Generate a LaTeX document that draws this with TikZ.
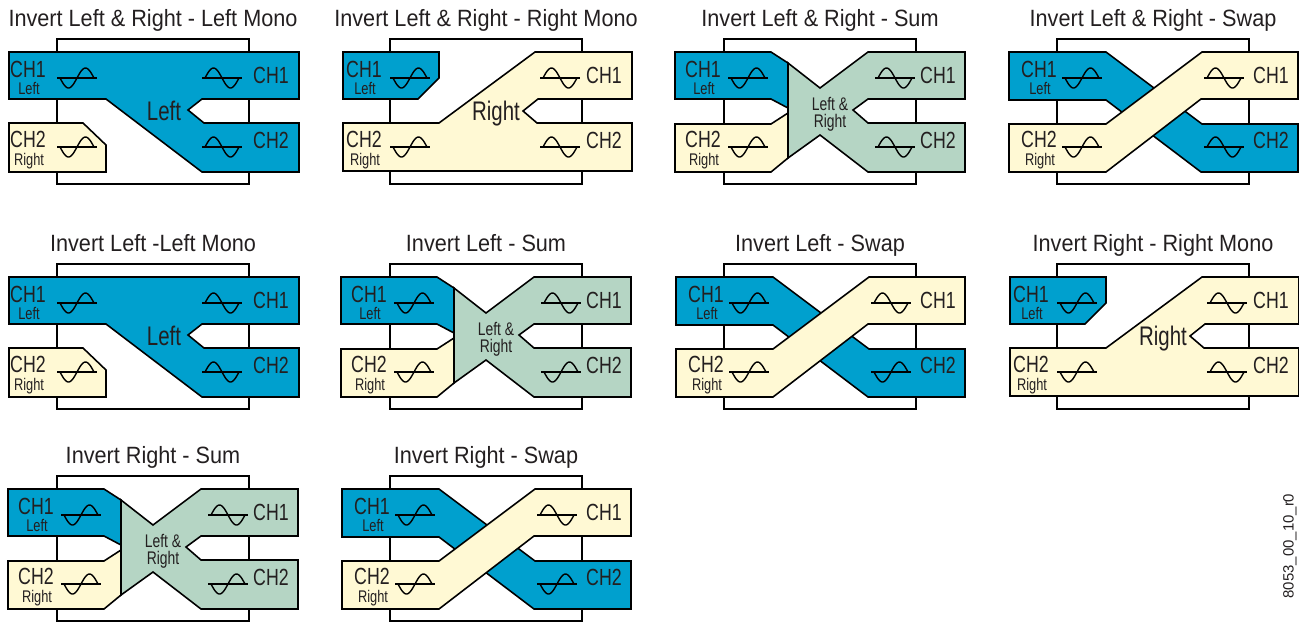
\documentclass[tikz,border=0pt]{standalone}
\usepackage{fontspec}
\setmainfont{Liberation Sans}
\newfontfamily\titlefont{Liberation Sans}[FakeStretch=0.92]
\newfontfamily\chfont{Liberation Sans}[FakeStretch=0.76]

\definecolor{chblue}{RGB}{0,160,206}
\definecolor{chcream}{RGB}{255,249,212}
\definecolor{chgreen}{RGB}{181,213,196}
\definecolor{chtext}{RGB}{35,31,32}

\tikzset{
  frame/.style={draw=black, line width=0.8pt, fill=white},
  band/.style={draw=black, line width=0.9pt, line join=miter},
  waveline/.style={draw=black, line width=0.8pt},
  paneltitle/.style={font=\titlefont\fontsize{13.4}{15}\selectfont, text=chtext, inner sep=0pt, anchor=base},
  chlabel/.style={font=\chfont\fontsize{13.3}{15}\selectfont, text=chtext, inner sep=0pt, anchor=base},
  sublabel/.style={font=\chfont\fontsize{9.6}{11}\selectfont, text=chtext, inner sep=0pt, anchor=base},
  midlabel/.style={font=\chfont\fontsize{15.3}{17}\selectfont, text=chtext, inner sep=0pt, anchor=base},
  sumlabel/.style={font=\chfont\fontsize{10.4}{9.7}\selectfont, text=chtext, align=center, inner sep=0pt},
}

% one sine period on a short line: #3 = 1 hump up first, -1 hump down first
\newcommand{\wave}[3]{%
  \draw[waveline] ({#1-20},#2) -- ({#1+20},#2);
  \draw[waveline] plot[domain=-17:17, samples=41, smooth] ({#1+\x},{#2+#3*10*sin(\x*180/17)});
}

% band shapes, one macro per routing mode
\newcommand{\leftmono}[1]{%
  \draw[band, fill=chcream] (9,123) -- (83,123) -- (106,145) -- (106,172) -- (9,172) -- cycle;
  \draw[band, fill=chblue] (9,52) -- (299,52) -- (299,99) -- (202,99) -- (188,110) -- (204,123)
    -- (299,123) -- (299,172) -- (202,172) -- (106,99) -- (9,99) -- cycle;
  \node[midlabel] (#1-mix) at (164,120) {Left};
  \def\inlx{28}\def\inwx{77}\def\outwx{222}%
}
\newcommand{\rightmono}[1]{%
  \draw[band, fill=chblue] (10,52) -- (106,52) -- (106,78) -- (85,99) -- (10,99) -- cycle;
  \draw[band, fill=chcream] (10,123) -- (106,123) -- (202,52) -- (299,52) -- (299,99) -- (205,99)
    -- (190,111) -- (204,123) -- (299,123) -- (299,171) -- (10,171) -- cycle;
  \node[midlabel] (#1-mix) at (163,120) {Right};
  \def\inlx{31}\def\inwx{77}\def\outwx{227}%
}
\newcommand{\sumbody}[1]{%
  \draw[band, fill=chblue] (8,52) -- (104,52) -- (121,63) -- (121,108) -- (104,99) -- (8,99) -- cycle;
  \draw[band, fill=chcream] (8,124) -- (104,124) -- (121,113) -- (121,158) -- (104,172) -- (8,172) -- cycle;
  \draw[band, fill=chgreen] (121,63) -- (153,88) -- (201,52) -- (298,52) -- (298,99) -- (201,99)
    -- (186,110) -- (201,123) -- (298,123) -- (298,172) -- (201,172) -- (153,135) -- (121,158) -- cycle;
  \node[sumlabel] (#1-mix) at (163,114) {Left \&\\Right};
  \def\inlx{36}\def\inwx{81}\def\outwx{228}%
}
\newcommand{\swapbody}[1]{%
  \draw[band, fill=chblue] (9,52) -- (106,52) -- (202,124) -- (298,124) -- (298,172) -- (201,172)
    -- (106,100) -- (9,100) -- cycle;
  \draw[band, fill=chcream] (9,124) -- (106,124) -- (202,52) -- (298,52) -- (298,99) -- (201,99)
    -- (106,172) -- (9,172) -- cycle;
  \def\inlx{39}\def\inwx{82}\def\outwx{224}%
}

% #1 prefix, #2 title, #3 mode, #4/#5 output wave signs
\newcommand{\audiopanel}[5]{%
  \draw[frame] (57,39) rectangle (249,184);
  \node[paneltitle] (#1-title) at (153,26) {#2};
  #3{#1}%
  \node[chlabel] (#1-in1) at (\inlx,77) {CH1};
  \node[sublabel] (#1-in1s) at ({\inlx+1},94) {Left};
  \node[chlabel] (#1-in2) at (\inlx,147) {CH2};
  \node[sublabel] (#1-in2s) at ({\inlx+1},165) {Right};
  \wave{\inwx}{78}{-1}
  \wave{\inwx}{147}{-1}
  \wave{\outwx}{78}{#4}
  \wave{\outwx}{147}{#5}
  \node[chlabel] (#1-out1) at (271,83) {CH1};
  \node[chlabel] (#1-out2) at (271,148) {CH2};
}

\begin{document}
\begin{tikzpicture}[x=0.02cm, y=-0.02cm]
  \useasboundingbox (0,0) rectangle (1299,623);

  % === Row 1: invert left & right ===
  \begin{scope}[shift={(0,0)}]
    \audiopanel{lrlm}{Invert Left \& Right - Left Mono}{\leftmono}{1}{1}
  \end{scope}
  \begin{scope}[shift={(333,0)}]
    \audiopanel{lrrm}{Invert Left \& Right - Right Mono}{\rightmono}{1}{1}
  \end{scope}
  \begin{scope}[shift={(667,0)}]
    \audiopanel{lrsum}{Invert Left \& Right - Sum}{\sumbody}{1}{1}
  \end{scope}
  \begin{scope}[shift={(1000,0)}]
    \audiopanel{lrswap}{Invert Left \& Right - Swap}{\swapbody}{1}{1}
  \end{scope}

  % === Row 2: invert left, invert right mono ===
  \begin{scope}[shift={(0,225)}]
    \audiopanel{llm}{Invert Left -Left Mono}{\leftmono}{1}{1}
  \end{scope}
  \begin{scope}[shift={(333,225)}]
    \audiopanel{lsum}{Invert Left - Sum}{\sumbody}{1}{-1}
  \end{scope}
  \begin{scope}[shift={(667,225)}]
    \audiopanel{lswap}{Invert Left - Swap}{\swapbody}{1}{-1}
  \end{scope}
  \begin{scope}[shift={(1000,225)}]
    \audiopanel{rrm}{Invert Right - Right Mono}{\rightmono}{1}{1}
  \end{scope}

  % === Row 3: invert right ===
  \begin{scope}[shift={(0,437)}]
    \audiopanel{rsum}{Invert Right - Sum}{\sumbody}{1}{-1}
  \end{scope}
  \begin{scope}[shift={(333,437)}]
    \audiopanel{rswap}{Invert Right - Swap}{\swapbody}{1}{-1}
  \end{scope}

  % figure number
  \node[font=\fontsize{8.5}{10}\selectfont, text=chtext, rotate=90, inner sep=0pt] (figno) at (1290,546) {8053\_00\_10\_r0};
\end{tikzpicture}
\end{document}
